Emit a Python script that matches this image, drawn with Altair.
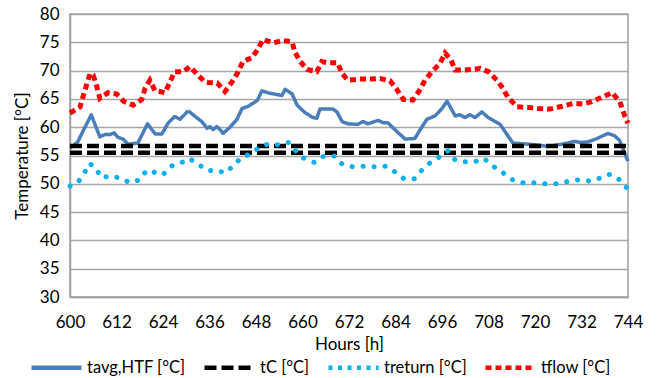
import altair as alt
import pandas as pd

# ---------------- data ----------------
names = ["tavg,HTF [°C]", "tC [°C]", "treturn [°C]", "tflow [°C]"]
colors = ["#4a7ebb", "#000000", "#00b0f0", "#ff0000"]

tavg_hours = [600, 602, 603.5, 605.5, 606.5, 607.7, 609, 610.3, 611.4, 612.4, 613.7, 615, 617.5,
              620, 622, 623.7, 625.3, 627, 628.4, 630.5, 632.3, 634, 635.4, 636.1, 636.9, 637.9,
              638.7, 639.5, 641.3, 643.1, 644.4, 646, 648.3, 649.5, 651.6, 654.7, 655.5, 657.3,
              658.6, 660.6, 662.7, 663.7, 664.5, 667.9, 668.9, 670.2, 671.7, 674.3, 675.6, 676.9,
              679.5, 680.8, 682, 684.4, 686.5, 689, 690.3, 692.1, 694.2, 696, 697.3, 699.4, 700.6,
              701.9, 703.2, 704.5, 706.3, 707.9, 709.7, 711, 714.3, 720, 723.4, 727, 730.3, 731.6,
              733.7, 736, 738.8, 740.5, 741.8, 744]
tavg = [56.3, 57.4, 59.5, 62.2, 60.4, 58.3, 58.7, 58.7, 59.0, 58.2, 57.9, 57.0, 57.2,
        60.6, 58.8, 58.8, 60.7, 61.9, 61.4, 62.9, 61.9, 61.0, 59.8, 60.1, 59.6, 60.1,
        59.6, 58.9, 60.0, 61.4, 63.3, 63.7, 64.7, 66.4, 66.0, 65.6, 66.7, 65.9,
        63.9, 62.6, 61.7, 61.6, 63.2, 63.2, 62.7, 61.0, 60.6, 60.5, 61.0, 60.6,
        61.2, 60.8, 60.8, 59.2, 57.9, 58.0, 59.5, 61.4, 62.0, 63.3, 64.6, 62.0, 62.2,
        61.7, 62.2, 61.7, 62.7, 61.7, 61.0, 60.5, 57.2, 56.9, 56.6, 57.0, 57.5, 57.3,
        57.4, 58.0, 58.9, 58.5, 57.7, 54.0]

tc_hours = [600, 744]
tc_upper = [56.7, 56.7]
tc_lower = [55.5, 55.5]

treturn_hours = [600, 602, 603.7, 605, 606.6, 608, 610.6, 612.9, 615.5, 618, 619.8, 621.4, 624,
                 626, 628.4, 630.7, 633, 635.6, 637.9, 640, 642, 644, 646.5, 648.8, 651, 653.9,
                 656.3, 658, 660.1, 663, 665, 668.4, 670.2, 673, 675.9, 679, 681.5, 683.9, 686.2,
                 689, 690.8, 692.9, 695.5, 697.5, 699.4, 701.9, 704.5, 706.8, 709.2, 711.5, 713.8,
                 716.6, 719.5, 722.3, 725.4, 728.3, 731.1, 734, 736.8, 739.4, 741.9, 744]
treturn = [49.6, 50.2, 51.9, 53.6, 52.9, 51.1, 51.4, 51.0, 50.2, 50.7, 52.4, 52.1, 51.6,
           53.1, 53.6, 54.5, 53.5, 52.3, 52.4, 51.9, 53.1, 54.5, 55.3, 56.4, 57.0, 56.9,
           57.3, 56.0, 54.6, 53.8, 54.8, 54.9, 53.5, 53.0, 53.1, 53.0, 53.1, 52.1, 50.9,
           50.9, 52.4, 53.7, 54.8, 55.8, 54.2, 53.9, 53.9, 54.5, 53.1, 52.1, 50.8,
           50.2, 50.2, 50.0, 50.0, 50.4, 50.7, 50.5, 51.0, 51.7, 50.7, 49.0]

tflow_hours = [600, 602.6, 603.4, 604.3, 605.2, 606, 606.9, 607.7, 609.8, 612, 614, 616.3, 618.5,
               619.4, 620.6, 621.9, 624.5, 625.8, 627, 629.2, 631, 633, 634.8, 635.6, 638, 640,
               641.8, 643.4, 644.6, 647, 648.5, 649.8, 652.4, 655, 657.3, 658, 659.4, 661.2,
               663.7, 665, 666.3, 669, 670.2, 671.7, 674.8, 677.4, 680, 682.6, 684.4, 686,
               688.5, 690.3, 691.6, 693.4, 695.5, 696.8, 698.3, 699.4, 701.9, 704, 705.8, 708,
               710.2, 711.7, 713, 715.4, 718.2, 720.8, 723.9, 727, 729.8, 732.4, 734.7, 737.3,
               739.9, 741.9, 743.2, 744]
tflow = [62.5, 63.6, 65.5, 67.5, 69.5, 69.2, 67.2, 65.1, 66.1, 65.9, 64.5, 63.9, 64.9,
         66.9, 68.3, 66.5, 66.1, 68.0, 69.8, 69.8, 70.7, 69.2, 68.0, 67.9, 67.8, 66.3,
         68.0, 69.8, 71.6, 72.3, 73.8, 75.5, 74.9, 75.3, 75.1, 73.3, 71.6, 70.2,
         69.8, 71.6, 71.4, 71.4, 69.5, 68.3, 68.5, 68.5, 68.6, 68.2, 66.6, 64.9,
         64.8, 66.6, 68.3, 69.8, 71.3, 73.1, 71.9, 70.1, 70.1, 70.2, 70.4, 69.8,
         68.3, 66.9, 65.3, 63.6, 63.5, 63.3, 63.2, 63.7, 64.2, 64.1, 64.5, 65.3,
         66.1, 64.5, 61.9, 60.7]

x_ticks = list(range(600, 745, 12))
y_ticks = list(range(30, 81, 5))

# ---------------- table ----------------
rows = []
for h, v in zip(tavg_hours, tavg):
    rows.append({"hour": h, "value": v, "series": names[0], "line": "a"})
for h, v in zip(tc_hours, tc_upper):
    rows.append({"hour": h, "value": v, "series": names[1], "line": "u"})
for h, v in zip(tc_hours, tc_lower):
    rows.append({"hour": h, "value": v, "series": names[1], "line": "l"})
for h, v in zip(treturn_hours, treturn):
    rows.append({"hour": h, "value": v, "series": names[2], "line": "r"})
for h, v in zip(tflow_hours, tflow):
    rows.append({"hour": h, "value": v, "series": names[3], "line": "f"})
df = pd.DataFrame(rows)

FONT = "Lato"

legend = alt.Legend(
    title=None, orient="none", legendX=-41, legendY=326, direction="horizontal",
    symbolType="stroke", symbolSize=2500, symbolStrokeWidth=4.5,
    labelFont=FONT, labelFontSize=16.5, labelColor="#000000", labelOffset=3,
    columnPadding=9, padding=0,
)

color = alt.Color("series:N", scale=alt.Scale(domain=names, range=colors), legend=legend)
dash = alt.StrokeDash("series:N",
                      scale=alt.Scale(domain=names, range=[[1, 0], [12, 5], [4, 5.5], [6, 4]]),
                      legend=legend)

x = alt.X("hour:Q", scale=alt.Scale(domain=[600, 744], nice=False, zero=False),
          axis=alt.Axis(values=x_ticks, title="Hours [h]", grid=False, ticks=False,
                        labelPadding=17, titlePadding=6, domainColor="#a0a0a0", domainWidth=1.5,
                        labelFont=FONT, labelFontSize=17, labelColor="#000000",
                        titleFont=FONT, titleFontSize=17, titleFontWeight="normal",
                        titleColor="#000000", labelFlush=False))
y = alt.Y("value:Q", scale=alt.Scale(domain=[30, 80], nice=False, zero=False),
          axis=alt.Axis(values=y_ticks, title="Temperature [°C]", grid=True, ticks=False,
                        gridColor="#a6a6a6", gridWidth=1.5, domainColor="#a0a0a0", domainWidth=1.5,
                        labelPadding=11, titlePadding=8,
                        labelFont=FONT, labelFontSize=17, labelColor="#000000",
                        titleFont=FONT, titleFontSize=17, titleFontWeight="normal",
                        titleColor="#000000"))

base = alt.Chart(df)

l_tavg = base.transform_filter(alt.datum.series == names[0]).mark_line(
    strokeWidth=3.5, strokeJoin="round").encode(x=x, y=y, color=color, strokeDash=dash)
l_tc = base.transform_filter(alt.datum.series == names[1]).mark_line(
    strokeWidth=4.5).encode(x=x, y=y, color=color, strokeDash=dash, detail="line:N")
l_ret = base.transform_filter(alt.datum.series == names[2]).mark_line(
    strokeWidth=5, strokeCap="round", strokeDash=[0.1, 10.9]).encode(x=x, y=y, color=color)
l_flow = base.transform_filter(alt.datum.series == names[3]).mark_line(
    strokeWidth=5).encode(x=x, y=y, color=color, strokeDash=dash)

chart = alt.layer(l_tavg, l_tc, l_ret, l_flow).properties(
    width=558, height=283, autosize=alt.AutoSizeParams(type="none"),
    padding={"left": 70, "top": 14, "right": 29, "bottom": 81},
    background="white",
).configure_view(stroke="#a0a0a0", strokeWidth=1.5)

chart.save("out.html", embed_options={"renderer": "svg", "actions": False})
